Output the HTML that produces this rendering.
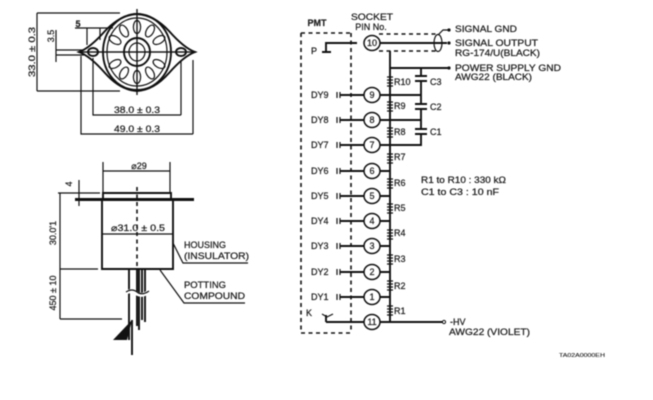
<!DOCTYPE html>
<html><head><meta charset="utf-8"><style>
html,body{margin:0;padding:0;background:#fff}
svg{display:block;filter:blur(.55px)}
text{font-family:"Liberation Sans",sans-serif;font-size:9px;fill:#222;stroke:#222;stroke-width:.25}
.l{stroke:#111;fill:none;stroke-width:1.2}
.t{stroke:#111;fill:none;stroke-width:1.9}
.d{stroke:#111;fill:none;stroke-width:1.6;stroke-dasharray:4 3.5}
.c{stroke:#111;fill:#fff;stroke-width:1.5}
.m{text-anchor:middle}
</style></head><body>
<svg width="653" height="400" viewBox="0 0 653 400" xmlns="http://www.w3.org/2000/svg">
<rect width="653" height="400" fill="#fff"/>
<!-- top socket -->
<path class="l" d="M37 13H120M37 13V91M37 91H120M56 30V62M56 50H84M56 55H84M75 28H113M87 28V45M100 28V40M93 58V115H181M81 56V134H193M181 60V115M193 60V134M137 9V95M78 52H196"/>
<path class="t" d="M79 52Q90 48 105 31Q120 15 137 14Q154 15 169 31Q184 48 195 52Q184 56 169 73Q154 90 137 91Q120 90 105 73Q90 56 79 52Z" fill="#fff"/>
<ellipse class="t" cx="137" cy="52" rx="34" ry="38"/>
<ellipse class="l" cx="137" cy="52" rx="30" ry="34"/>
<ellipse class="t" cx="137" cy="52" rx="13" ry="14"/>
<ellipse class="l" cx="137" cy="52" rx="8" ry="9"/>
<ellipse class="t" cx="93" cy="52" rx="5" ry="4"/>
<ellipse class="t" cx="181" cy="52" rx="5" ry="4"/>
<g class="l">
<ellipse cx="137" cy="27" rx="3.6" ry="6.5"/>
<ellipse cx="137" cy="77" rx="3.6" ry="6.5"/>
<ellipse cx="150" cy="31" rx="3.6" ry="6.5" transform="rotate(30 150 31)"/>
<ellipse cx="124" cy="31" rx="3.6" ry="6.5" transform="rotate(-30 124 31)"/>
<ellipse cx="159" cy="40" rx="3.6" ry="6.5" transform="rotate(60 159 40)"/>
<ellipse cx="115" cy="40" rx="3.6" ry="6.5" transform="rotate(-60 115 40)"/>
<ellipse cx="159" cy="64" rx="3.6" ry="6.5" transform="rotate(-60 159 64)"/>
<ellipse cx="115" cy="64" rx="3.6" ry="6.5" transform="rotate(60 115 64)"/>
<ellipse cx="150" cy="73" rx="3.6" ry="6.5" transform="rotate(-30 150 73)"/>
<ellipse cx="124" cy="73" rx="3.6" ry="6.5" transform="rotate(30 124 73)"/>
</g>
<path class="l" d="M78 52H196M137 9V95"/>
<text x="35" y="52" class="m" transform="rotate(-90 35 52)" textLength="50" lengthAdjust="spacingAndGlyphs">33.0 ± 0.3</text>
<text x="54" y="36" class="m" transform="rotate(-90 54 36)">3.5</text>
<text x="78" y="27" class="m" font-weight="bold">5</text>
<text x="137" y="113" class="m" textLength="46" lengthAdjust="spacingAndGlyphs">38.0 ± 0.3</text>
<text x="137" y="132" class="m" textLength="46" lengthAdjust="spacingAndGlyphs">49.0 ± 0.3</text>
<!-- side view -->
<path class="l" d="M103 162V193M170 162V193M103 171H170M58 193H100M60 193V319M60 269H98M60 319H122M79 180V206M102 234H173M173 243L183 263H248M160 270L184 303H245"/>
<path class="t" d="M103 198V193H171V198M102 200V269H173V200"/>
<path d="M75 199.5H194" stroke="#111" stroke-width="3"/>
<path class="d" d="M137 187V269" stroke-width="1.2"/>
<path class="t" d="M129 270V340M137 270V326M139 270V330M145 270V322M142 270V320"/>
<path d="M124 294Q130 289 136 293T148 292" stroke="#fff" stroke-width="4" fill="none"/>
<path class="l" d="M126 292Q132 288 137 292T149 291"/>
<polygon points="113,340 132,320 127,340" fill="#111"/>
<path class="t" d="M132 320V355"/>
<text x="139" y="169" class="m">⌀29</text>
<text x="138" y="231" class="m" textLength="54" lengthAdjust="spacingAndGlyphs">⌀31.0 ± 0.5</text>
<text x="72" y="184" class="m" transform="rotate(-90 72 184)">4</text>
<text x="56" y="233" class="m" transform="rotate(-90 56 233)">30.0'1</text>
<text x="56" y="293" class="m" transform="rotate(-90 56 293)">450 ± 10</text>
<text x="184" y="248" textLength="42" lengthAdjust="spacingAndGlyphs">HOUSING</text>
<text x="184" y="259" textLength="65" lengthAdjust="spacingAndGlyphs">(INSULATOR)</text>
<text x="184" y="288" textLength="42" lengthAdjust="spacingAndGlyphs">POTTING</text>
<text x="184" y="299" textLength="61" lengthAdjust="spacingAndGlyphs">COMPOUND</text>
<!-- schematic -->
<text x="317" y="26" class="m" font-weight="bold">PMT</text>
<text x="372" y="20" class="m" textLength="42" lengthAdjust="spacingAndGlyphs">SOCKET</text>
<text x="371" y="30" class="m">PIN No.</text>
<path class="d" d="M301 33H351M301 333H351M301 33V333M351 33V333"/>
<path class="d" d="M379 34H436M379 51H436"/>
<path class="t" d="M322 52H331M326 52V43H357M380 43H447M390 51V322M390 68H449M421 68V75M421 81V103M421 109V128M421 134V145H380M380 95H421M380 120H421"/>
<path class="t" d="M415 76H427M415 81H427M415 104H427M415 109H427M415 129H427M415 134H427"/>
<path class="l" d="M438 35L443 30H449"/>
<ellipse cx="438" cy="43" rx="4" ry="8.5" class="l"/>
<g fill="#111"><circle cx="449" cy="30" r="1.6"/><circle cx="449" cy="43" r="1.6"/><circle cx="449" cy="68" r="1.6"/></g>
<circle cx="444" cy="322" r="1.6" fill="#fff" stroke="#111"/>
<path class="t" d="M380 322H443"/>
<path class="t" d="M364 95H352M364 120H352M364 145H352M364 171H352M364 196H352M364 221H352M364 246H352M364 272H352M364 297H352M364 322H352M380 95H390M380 120H390M380 145H390M380 171H390M380 196H390M380 221H390M380 246H390M380 272H390M380 297H390"/>
<path class="t" d="M340 95H353M340 120H353M340 145H353M340 171H353M340 196H353M340 221H353M340 246H353M340 272H353M340 297H353"/>
<path class="l" d="M337 92V98M340 92V98M337 117V123M340 117V123M337 142V148M340 142V148M337 168V174M340 168V174M337 193V199M340 193V199M337 218V224M340 218V224M337 243V249M340 243V249M337 269V275M340 269V275M337 294V300M340 294V300"/>
<path class="t" d="M326 322V315M326 322H355"/>
<path class="l" d="M322 314L327 317L333 314"/>
<g class="l">
<path d="M387 77H393M387 80H393M387 83H393M387 86H393"/>
<path d="M387 102H393M387 105H393M387 108H393M387 111H393"/>
<path d="M387 128H393M387 131H393M387 134H393M387 137H393"/>
<path d="M387 154H393M387 157H393M387 160H393M387 163H393"/>
<path d="M387 179H393M387 182H393M387 185H393M387 188H393"/>
<path d="M387 204H393M387 207H393M387 210H393M387 213H393"/>
<path d="M387 230H393M387 233H393M387 236H393M387 239H393"/>
<path d="M387 255H393M387 258H393M387 261H393M387 264H393"/>
<path d="M387 281H393M387 284H393M387 287H393M387 290H393"/>
<path d="M387 306H393M387 309H393M387 312H393M387 315H393"/>
</g>
<g>
<ellipse class="c" cx="372" cy="43" rx="8" ry="7.5"/><ellipse class="c" cx="372" cy="95" rx="8" ry="7.5"/><ellipse class="c" cx="372" cy="120" rx="8" ry="7.5"/><ellipse class="c" cx="372" cy="145" rx="8" ry="7.5"/><ellipse class="c" cx="372" cy="171" rx="8" ry="7.5"/><ellipse class="c" cx="372" cy="196" rx="8" ry="7.5"/><ellipse class="c" cx="372" cy="221" rx="8" ry="7.5"/><ellipse class="c" cx="372" cy="246" rx="8" ry="7.5"/><ellipse class="c" cx="372" cy="272" rx="8" ry="7.5"/><ellipse class="c" cx="372" cy="297" rx="8" ry="7.5"/><ellipse class="c" cx="372" cy="322" rx="8" ry="7.5"/>
</g>
<g>
<text x="372" y="46" class="m">10</text><text x="372" y="98" class="m">9</text><text x="372" y="123" class="m">8</text><text x="372" y="148" class="m">7</text><text x="372" y="174" class="m">6</text><text x="372" y="199" class="m">5</text><text x="372" y="224" class="m">4</text><text x="372" y="249" class="m">3</text><text x="372" y="275" class="m">2</text><text x="372" y="300" class="m">1</text><text x="372" y="325" class="m">11</text>
</g>
<text x="311" y="54">P</text>
<text x="311" y="98">DY9</text><text x="311" y="123">DY8</text><text x="311" y="148">DY7</text><text x="311" y="174">DY6</text><text x="311" y="199">DY5</text><text x="311" y="224">DY4</text><text x="311" y="249">DY3</text><text x="311" y="275">DY2</text><text x="311" y="300">DY1</text><text x="306" y="316">K</text>
<text x="394" y="85">R10</text><text x="394" y="109">R9</text><text x="394" y="135">R8</text><text x="394" y="160">R7</text><text x="394" y="186">R6</text><text x="394" y="211">R5</text><text x="394" y="236">R4</text><text x="394" y="262">R3</text><text x="394" y="289">R2</text><text x="394" y="314">R1</text>
<text x="430" y="85">C3</text><text x="430" y="110">C2</text><text x="430" y="135">C1</text>
<text x="455" y="32" textLength="62" lengthAdjust="spacingAndGlyphs">SIGNAL GND</text>
<text x="455" y="46" textLength="83" lengthAdjust="spacingAndGlyphs">SIGNAL  OUTPUT</text>
<text x="455" y="56" textLength="85" lengthAdjust="spacingAndGlyphs">RG-174/U(BLACK)</text>
<text x="455" y="71" textLength="106" lengthAdjust="spacingAndGlyphs">POWER SUPPLY GND</text>
<text x="455" y="80" textLength="77" lengthAdjust="spacingAndGlyphs">AWG22 (BLACK)</text>
<text x="421" y="183" textLength="85" lengthAdjust="spacingAndGlyphs">R1 to R10 : 330 kΩ</text>
<text x="421" y="195" textLength="78" lengthAdjust="spacingAndGlyphs">C1 to C3  : 10 nF</text>
<text x="450" y="325">-HV</text>
<text x="449" y="335" textLength="81" lengthAdjust="spacingAndGlyphs">AWG22 (VIOLET)</text>
<text x="559" y="357" textLength="46" lengthAdjust="spacingAndGlyphs" style="font-size:5px;stroke-width:.1">TA02A0000EH</text>
</svg>
</body></html>
